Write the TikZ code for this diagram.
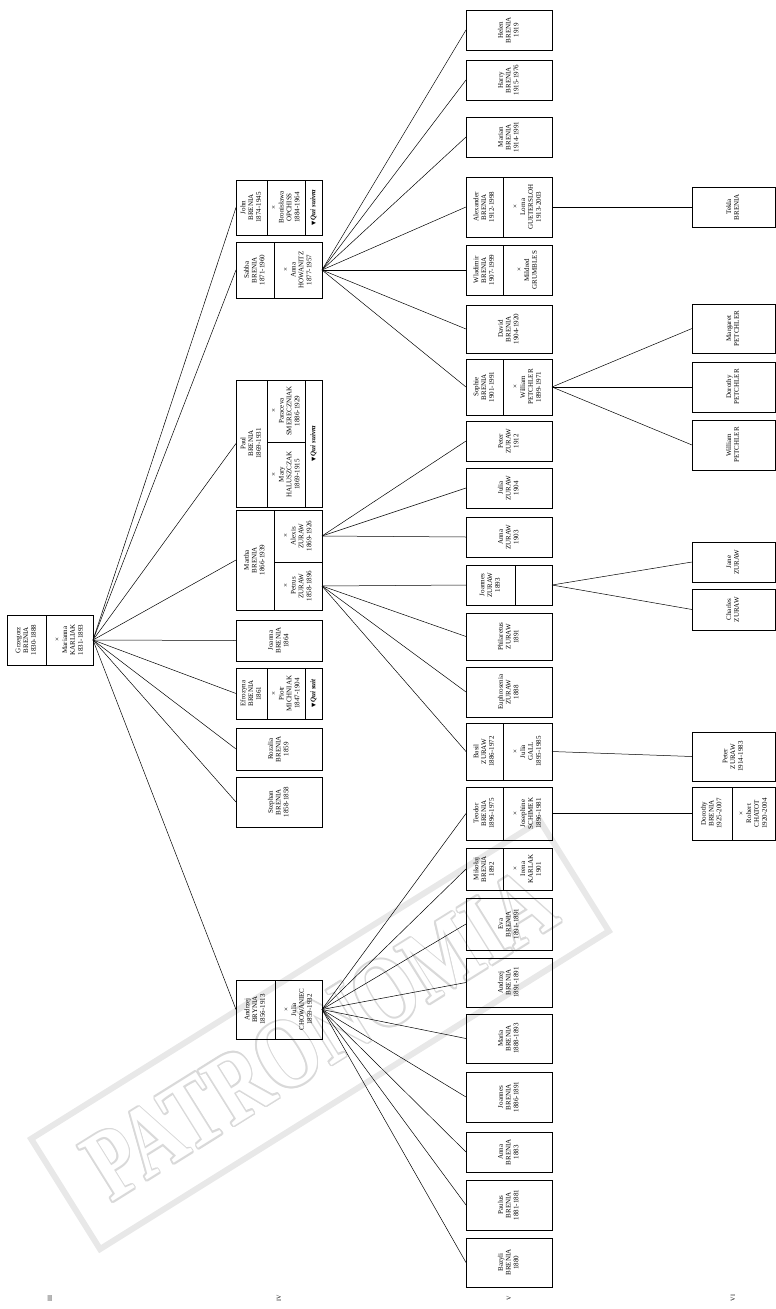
\documentclass[tikz,border=0pt]{standalone}
\usepackage{fontspec}
\setmainfont{Liberation Serif}
\newfontfamily\symf{DejaVu Sans}
\usepackage{graphicx}
\usepackage{contour}
\contourlength{1.4pt}
\contournumber{12}

% vertical text inside a cell
\newcommand{\vt}[1]{\rotatebox{90}{\begin{tabular}{@{}c@{}}#1\end{tabular}}}
\newcommand{\qs}[1]{\rotatebox{90}{{\symf\fontsize{5.5}{6}\selectfont ▼}\,\textbf{\textit{#1}}}}

\begin{document}
\begin{tikzpicture}[
        x=1pt, y=-1pt,
        cell/.style  = {draw, line width=0.6pt, anchor=north west,
                        inner sep=0pt, outer sep=0pt,
                        font=\fontsize{7}{7.8}\selectfont},
        sz/.style 2 args = {minimum width=#1pt, minimum height=#2pt},
        link/.style  = {line width=0.5pt},
        gen/.style   = {font=\fontsize{6}{7}\selectfont},
        stamp/.style = {draw=gray!18, line width=6pt, rotate=32,
                        minimum width=600pt, minimum height=130pt,
                        inner sep=0pt, text=white,
                        font=\fontsize{77}{80}\selectfont\bfseries}
    ]
    \useasboundingbox (0,0) rectangle (776,1309);

    % watermark
    \node[stamp] (stamp) at (320,1035)
        {\scalebox{1}[1.3]{\contour{gray!30}{PATRONOMIA}}};

    % generation III
    \node[cell, sz={39}{50}] (grzegorz) at (7,615) {\vt{Grzegorz\\BRENIA\\1830-1888}};
    \node[cell, sz={47}{50}] (marianna) at (46,615) {\vt{×\\Marianna\\KARLIAK\\1831-1893}};

    % generation IV
    \node[cell, sz={31}{55}] (john) at (236,180) {\vt{John\\BRENIA\\1874-1945}};
    \node[cell, sz={38}{55}] (bronislawa) at (267,180) {\vt{×\\Bronisława\\OPCHISS\\1884-1964}};
    \node[cell, sz={17}{55}] (johnqs) at (305,180) {\qs{Qui suivra}};

    \node[cell, sz={38}{56}] (sabba) at (236,242) {\vt{Sabba\\BRENIA\\1871-1960}};
    \node[cell, sz={48}{56}] (annah) at (274,242) {\vt{×\\Anna\\HOWANITZ\\1877-1957}};

    \node[cell, sz={31}{127}] (paul) at (236,380) {\vt{Paul\\BRENIA\\1869-1931}};
    \node[cell, sz={38}{62}] (paraceva) at (267,380) {\vt{×\\Paraceva\\SMERECZNIAK\\1886-1929}};
    \node[cell, sz={38}{65}] (mary) at (267,442) {\vt{×\\Mary\\HALUSZCZAK\\1869-1915}};
    \node[cell, sz={17}{127}] (paulqs) at (305,380) {\qs{Qui suivra}};

    \node[cell, sz={38}{100}] (martha) at (236,510) {\vt{Martha\\BRENIA\\1866-1939}};
    \node[cell, sz={48}{52}] (alexis) at (274,510) {\vt{×\\Alexis\\ZURAW\\1869-1926}};
    \node[cell, sz={48}{48}] (petrus) at (274,562) {\vt{×\\Petrus\\ZURAW\\1858-1896}};

    \node[cell, sz={86}{41}] (joanna) at (236,620) {\vt{Joanna\\BRENIA\\1864}};

    \node[cell, sz={31}{51}] (efrozyna) at (236,668) {\vt{Efrozyna\\BRENIA\\1861}};
    \node[cell, sz={38}{51}] (piotr) at (267,668) {\vt{×\\Piotr\\MICHNIAK\\1847-1904}};
    \node[cell, sz={17}{51}] (efrqs) at (305,668) {\qs{Qui suit}};

    \node[cell, sz={86}{42}] (rozalia) at (236,728) {\vt{Rozalia\\BRENIA\\1859}};
    \node[cell, sz={86}{50}] (stephan) at (236,777) {\vt{Stephan\\BRENIA\\1858-1858}};

    \node[cell, sz={39}{59}] (andrzej) at (236,980) {\vt{Andrzej\\BRYNIA\\1856-1913}};
    \node[cell, sz={47}{59}] (julia) at (275,980) {\vt{×\\Julia\\CHOWANIEC\\1859-1932}};

    % generation V
    \node[cell, sz={86}{40}] (helen) at (466,10) {\vt{Helen\\BRENIA\\1919}};
    \node[cell, sz={86}{40}] (harry) at (466,60) {\vt{Harry\\BRENIA\\1915-1976}};
    \node[cell, sz={86}{40}] (marian) at (466,117) {\vt{Marian\\BRENIA\\1914-1991}};
    \node[cell, sz={37}{60}] (alexander) at (466,177) {\vt{Alexander\\BRENIA\\1912-1998}};
    \node[cell, sz={49}{60}] (lorna) at (503,177) {\vt{×\\Lorna\\GUETERSLOH\\1913-2003}};
    \node[cell, sz={37}{50}] (wladimir) at (466,245) {\vt{Wladimir\\BRENIA\\1907-1999}};
    \node[cell, sz={49}{50}] (mildred) at (503,245) {\vt{×\\Mildred\\GRUMBLES}};
    \node[cell, sz={86}{48}] (david) at (466,305) {\vt{David\\BRENIA\\1904-1920}};
    \node[cell, sz={37}{56}] (sophie) at (466,359) {\vt{Sophie\\BRENIA\\1901-1991}};
    \node[cell, sz={49}{56}] (william) at (503,359) {\vt{×\\William\\PETCHLER\\1899-1971}};

    \node[cell, sz={86}{40}] (peterz) at (466,421) {\vt{Peter\\ZURAW\\1912}};
    \node[cell, sz={86}{40}] (juliaz) at (466,468) {\vt{Julia\\ZURAW\\1904}};
    \node[cell, sz={86}{40}] (annaz) at (466,517) {\vt{Anna\\ZURAW\\1903}};
    \node[cell, sz={49}{40}] (joannesz) at (466,565) {\vt{Joannes\\ZURAW\\1893}};
    \node[cell, sz={37}{40}] (joannessp) at (515,565) {};
    \node[cell, sz={86}{47}] (philaretus) at (466,613) {\vt{Philaretus\\ZURAW\\1891}};
    \node[cell, sz={86}{50}] (euphrosenia) at (466,667) {\vt{Euphrosenia\\ZURAW\\1888}};
    \node[cell, sz={37}{57}] (basil) at (466,723) {\vt{Basil\\ZURAW\\1886-1972}};
    \node[cell, sz={49}{57}] (juliag) at (503,723) {\vt{×\\Julia\\GALL\\1895-1985}};

    \node[cell, sz={37}{53}] (teodor) at (466,787) {\vt{Teodor\\BRENIA\\1896-1975}};
    \node[cell, sz={49}{53}] (josephine) at (503,787) {\vt{×\\Josephine\\SCHIMEK\\1896-1981}};
    \node[cell, sz={37}{42}] (mikolaj) at (466,848) {\vt{Mikołaj\\BRENIA\\1892}};
    \node[cell, sz={49}{42}] (irena) at (503,848) {\vt{×\\Irena\\KARLAK\\1901}};
    \node[cell, sz={86}{52}] (eva) at (466,898) {\vt{Eva\\BRENIA\\1891-1891}};
    \node[cell, sz={86}{49}] (andrzejb) at (466,958) {\vt{Andrzej\\BRENIA\\1891-1891}};
    \node[cell, sz={86}{49}] (maria) at (466,1014) {\vt{Maria\\BRENIA\\1888-1893}};
    \node[cell, sz={86}{50}] (joannesb) at (466,1072) {\vt{Joannes\\BRENIA\\1886-1891}};
    \node[cell, sz={86}{40}] (annab) at (466,1132) {\vt{Anna\\BRENIA\\1883}};
    \node[cell, sz={86}{50}] (paulus) at (466,1180) {\vt{Paulus\\BRENIA\\1881-1881}};
    \node[cell, sz={86}{49}] (bazyli) at (466,1238) {\vt{Bazyli\\BRENIA\\1880}};

    % generation VI
    \node[cell, sz={83}{40}] (tekla) at (692,187) {\vt{Tekla\\BRENIA}};
    \node[cell, sz={83}{49}] (margaret) at (692,304) {\vt{Margaret\\PETCHLER}};
    \node[cell, sz={83}{50}] (dorothyp) at (692,362) {\vt{Dorothy\\PETCHLER}};
    \node[cell, sz={83}{50}] (williamp) at (692,420) {\vt{William\\PETCHLER}};
    \node[cell, sz={83}{40}] (jane) at (692,542) {\vt{Jane\\ZURAW}};
    \node[cell, sz={83}{41}] (charles) at (692,589) {\vt{Charles\\ZURAW}};
    \node[cell, sz={83}{49}] (peterzz) at (692,732) {\vt{Peter\\ZURAW\\1914-1983}};
    \node[cell, sz={40}{53}] (dorothyb) at (692,787) {\vt{Dorothy\\BRENIA\\1925-2007}};
    \node[cell, sz={43}{53}] (robert) at (732,787) {\vt{×\\Robert\\CHATOT\\1920-2004}};

    % generation numbers
    \node[gen] (g3) at (50,1298) {\rotatebox{90}{III}};
    \node[gen] (g4) at (279,1298) {\rotatebox{90}{IV}};
    \node[gen] (g5) at (509,1298) {\rotatebox{90}{V}};
    \node[gen] (g6) at (733,1298) {\rotatebox{90}{VI}};

    % descendants
    \foreach \c in {john,sabba,paul,martha,joanna,efrozyna,rozalia,stephan,andrzej}
        \draw[link] (marianna.east) -- (\c.west);
    \foreach \c in {helen,harry,marian,alexander,wladimir,david,sophie}
        \draw[link] (annah.east) -- (\c.west);
    \foreach \c in {peterz,juliaz,annaz}
        \draw[link] (alexis.east) -- (\c.west);
    \foreach \c in {joannesz,philaretus,euphrosenia,basil}
        \draw[link] (petrus.east) -- (\c.west);
    \foreach \c in {teodor,mikolaj,eva,andrzejb,maria,joannesb,annab,paulus,bazyli}
        \draw[link] (julia.east) -- (\c.west);
    \draw[link] (lorna.east) -- (tekla.west);
    \foreach \c in {margaret,dorothyp,williamp}
        \draw[link] (william.east) -- (\c.west);
    \foreach \c in {jane,charles}
        \draw[link] (joannessp.east) -- (\c.west);
    \draw[link] (juliag.east) -- (peterzz.west);
    \draw[link] (josephine.east) -- (dorothyb.west);
\end{tikzpicture}
\end{document}
